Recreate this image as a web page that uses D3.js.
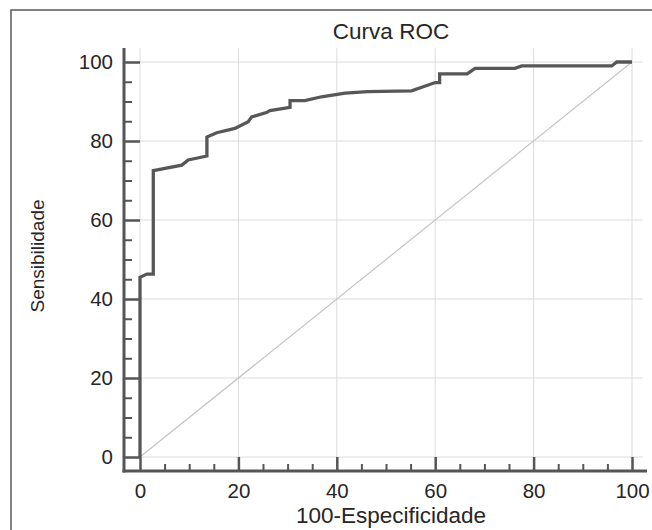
<!DOCTYPE html>
<html>
<head>
<meta charset="utf-8">
<script src="https://cdn.jsdelivr.net/npm/d3@7"></script>
<style>
  body { margin: 0; background: #fff; }
  text { font-family: "Liberation Sans", Arial, sans-serif; }
</style>
</head>
<body>
<div id="wrapper"></div>
<script>
// ROC curve vertices (100-specificity, sensitivity)
const fprValues = [0, 0, 1.4, 2.7, 2.7, 8.5, 9.8, 13.6, 13.6, 15.6, 19.3, 22, 22.7, 25.7, 26.4, 30.5, 30.5, 33.5, 36.9, 41.7, 46.3, 55.2, 60, 60.9, 60.9, 66.5, 68.1, 76.2, 77.6, 95.9, 96.9, 100]
const tprValues = [0, 45.5, 46.3, 46.3, 72.5, 73.9, 75.2, 76.2, 81, 82.1, 83.2, 84.9, 86.1, 87.2, 87.7, 88.5, 90.2, 90.2, 91.2, 92.1, 92.5, 92.7, 94.8, 94.8, 97, 97, 98.4, 98.4, 99, 99, 100, 100]
const majorTicks = [0, 20, 40, 60, 80, 100]
const minorTicks = [5, 10, 15, 25, 30, 35, 45, 50, 55, 65, 70, 75, 85, 90, 95]
const diagonal = [0, 100]

const title = "Curva ROC"
const xLabel = "100-Especificidade"
const yLabel = "Sensibilidade"

function draw() {

    //****************************1. Data
    const rocData = fprValues.map((x, i) => ({ x: x, y: tprValues[i] }))
    const diagData = diagonal.map(v => ({ x: v, y: v }))

    //****************************2. Dimensions
    let dimensions = {
        width: 652,
        height: 530,
        margin: { top: 62, right: 20, bottom: 73, left: 140 }
    }
    dimensions.plotRight = 632
    dimensions.plotBottom = 457
    dimensions.axisX = 124      // y axis line sits left of the zero
    dimensions.axisY = 471      // x axis line sits below the zero

    //****************************3. Canvas
    const svg = d3.select("#wrapper")
        .append("svg")
        .attr("width", dimensions.width)
        .attr("height", dimensions.height)

    svg.append("rect")
        .attr("x", 11).attr("y", 10)
        .attr("width", 700).attr("height", 600)
        .attr("fill", "#fff")
        .attr("stroke", "#5a5a5a")
        .attr("stroke-width", 1.5)

    //****************************4. Scales
    const xScale = d3.scaleLinear()
        .domain([0, 100])
        .range([dimensions.margin.left, dimensions.plotRight])

    const yScale = d3.scaleLinear()
        .domain([0, 100])
        .range([dimensions.plotBottom, dimensions.margin.top])

    //****************************5. Grid
    const grid = svg.append("g")
    grid.selectAll(".hgrid")
        .data(majorTicks)
        .join("line")
        .attr("x1", xScale(0))
        .attr("x2", xScale(102.2))
        .attr("y1", d => yScale(d))
        .attr("y2", d => yScale(d))
        .attr("stroke", "#dcdcdc")
        .attr("stroke-width", 1)
    grid.selectAll(".vgrid")
        .data(majorTicks)
        .join("line")
        .attr("x1", d => xScale(d))
        .attr("x2", d => xScale(d))
        .attr("y1", yScale(0))
        .attr("y2", yScale(103.5))
        .attr("stroke", "#dcdcdc")
        .attr("stroke-width", 1)

    //****************************6. Data marks
    const line = d3.line()
        .x(d => xScale(d.x))
        .y(d => yScale(d.y))

    svg.append("path")
        .datum(diagData)
        .attr("d", line)
        .attr("fill", "none")
        .attr("stroke", "#c4c4c4")
        .attr("stroke-width", 1.2)

    svg.append("path")
        .datum(rocData)
        .attr("d", line)
        .attr("fill", "none")
        .attr("stroke", "#575757")
        .attr("stroke-width", 3.3)
        .attr("stroke-linejoin", "miter")

    //****************************7. Axes
    const yAxis = svg.append("g")
        .attr("transform", `translate(${dimensions.axisX},0)`)
        .call(d3.axisLeft(yScale).tickValues(majorTicks).tickSize(-16).tickPadding(11))
    yAxis.select(".domain").remove()
    yAxis.selectAll(".tick line").attr("stroke", "#555").attr("stroke-width", 2.5)
    yAxis.selectAll(".tick text")
        .attr("font-size", 20.5)
        .attr("fill", "#262626")

    const yMinor = svg.append("g")
        .attr("transform", `translate(${dimensions.axisX},0)`)
        .call(d3.axisLeft(yScale).tickValues(minorTicks).tickSize(-8).tickFormat(""))
    yMinor.select(".domain").remove()
    yMinor.selectAll(".tick line").attr("stroke", "#555").attr("stroke-width", 2)

    const xAxis = svg.append("g")
        .attr("transform", `translate(0,${dimensions.axisY})`)
        .call(d3.axisBottom(xScale).tickValues(majorTicks).tickSize(-14).tickPadding(12))
    xAxis.select(".domain").remove()
    xAxis.selectAll(".tick line").attr("stroke", "#555").attr("stroke-width", 2.5)
    xAxis.selectAll(".tick text")
        .attr("font-size", 20.5)
        .attr("fill", "#262626")

    const xMinor = svg.append("g")
        .attr("transform", `translate(0,${dimensions.axisY})`)
        .call(d3.axisBottom(xScale).tickValues(minorTicks).tickSize(-7).tickFormat(""))
    xMinor.select(".domain").remove()
    xMinor.selectAll(".tick line").attr("stroke", "#555").attr("stroke-width", 2)

    // axis lines
    svg.append("line")
        .attr("x1", dimensions.axisX).attr("x2", dimensions.axisX)
        .attr("y1", 48).attr("y2", dimensions.axisY + 1.5)
        .attr("stroke", "#555").attr("stroke-width", 3)
    svg.append("line")
        .attr("x1", dimensions.axisX - 1.5).attr("x2", 647)
        .attr("y1", dimensions.axisY).attr("y2", dimensions.axisY)
        .attr("stroke", "#555").attr("stroke-width", 3)

    //****************************8. Labels
    svg.append("text")
        .attr("x", 391).attr("y", 39)
        .attr("text-anchor", "middle")
        .attr("font-size", 22.5)
        .attr("fill", "#262626")
        .text(title)

    svg.append("text")
        .attr("x", 391).attr("y", 523)
        .attr("text-anchor", "middle")
        .attr("font-size", 22.5)
        .attr("fill", "#262626")
        .text(xLabel)

    svg.append("text")
        .attr("transform", "translate(44,256) rotate(-90)")
        .attr("text-anchor", "middle")
        .attr("font-size", 19)
        .attr("fill", "#262626")
        .text(yLabel)
}

draw()
</script>
</body>
</html>
